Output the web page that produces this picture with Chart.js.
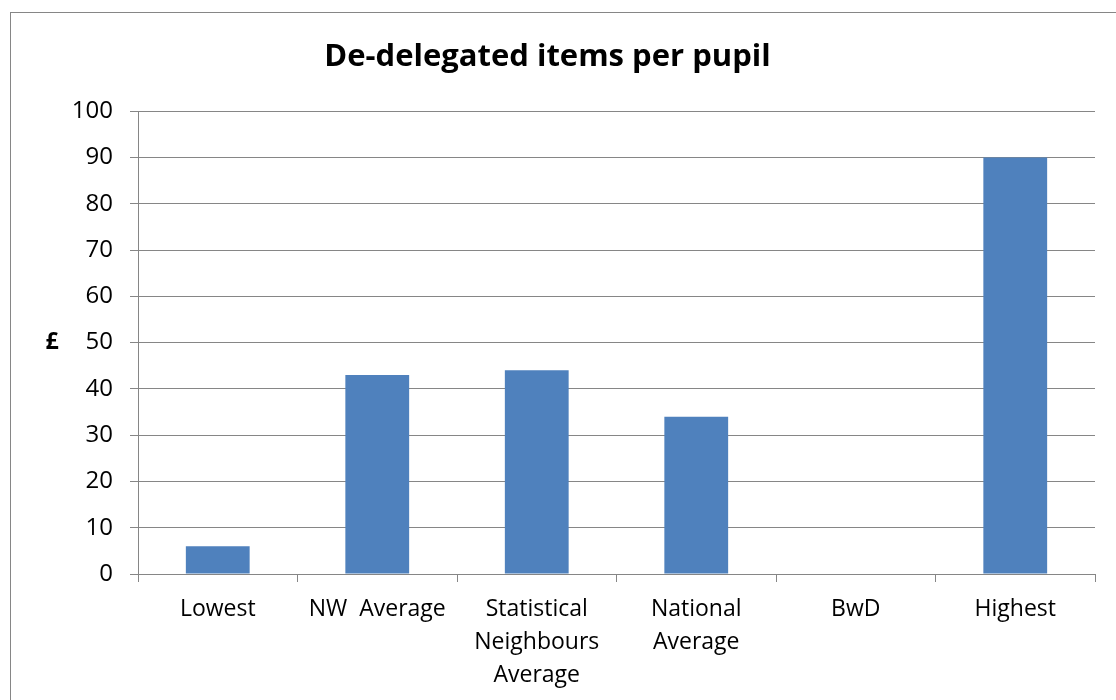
<!DOCTYPE html>
<html>
<head>
<meta charset="utf-8">
<title>De-delegated items per pupil</title>
<script src="https://cdn.jsdelivr.net/npm/chart.js@4"></script>
<style>
    html, body { margin: 0; padding: 0; background: #fff; overflow: hidden; }
    #wrap { position: relative; width: 1116px; height: 700px; }
    #frame {
        position: absolute; left: 10px; top: 12px;
        width: 1300px; height: 900px;
        border: 1px solid #868686;
    }
    #chart { position: absolute; left: 0; top: 0; }
</style>
</head>
<body>
<div id="wrap">
    <div id="frame"></div>
    <canvas id="chart" width="1116" height="700"></canvas>
</div>
<script>
// chart data
const categories = ['Lowest', 'NW  Average', ['Statistical', 'Neighbours', 'Average'], ['National', 'Average'], 'BwD', 'Highest'];
const perPupil = [6, 43, 44, 34, 0, 90];
const yTicks = [0, 10, 20, 30, 40, 50, 60, 70, 80, 90, 100];
const yAxisLabel = '£';

const FONT = "'Open Sans', 'DejaVu Sans', sans-serif";
const GRID = '#868686';

// draws the upright "£" next to the value axis
const poundLabel = {
    id: 'poundLabel',
    afterDraw(chart) {
        const ctx = chart.ctx;
        const y = chart.scales.y;
        ctx.save();
        ctx.font = 'bold 23px ' + FONT;
        ctx.fillStyle = '#000';
        ctx.textAlign = 'center';
        ctx.textBaseline = 'middle';
        ctx.fillText(yAxisLabel, 52, (y.top + y.bottom) / 2);
        ctx.restore();
    }
};

new Chart(document.getElementById('chart'), {
    type: 'bar',
    data: {
        labels: categories,
        datasets: [{
            label: 'De-delegated items per pupil',
            data: perPupil,
            backgroundColor: '#4f81bd',
            borderWidth: 0,
            barPercentage: 0.4,
            categoryPercentage: 1
        }]
    },
    options: {
        responsive: false,
        animation: false,
        layout: { padding: { left: 0, right: 21, top: 0, bottom: 0 } },
        plugins: {
            legend: { display: false },
            tooltip: { enabled: false },
            title: {
                display: true,
                text: 'De-delegated items per pupil',
                color: '#000',
                font: { family: FONT, size: 31, weight: 'bold' },
                padding: { top: 39, bottom: 35 }
            }
        },
        scales: {
            x: {
                grid: {
                    drawOnChartArea: false,
                    drawTicks: true,
                    tickLength: 8,
                    color: GRID
                },
                border: { color: GRID, width: 1 },
                ticks: {
                    color: '#000',
                    padding: 11,
                    maxRotation: 0,
                    autoSkip: false,
                    font: { family: FONT, size: 23, lineHeight: 1.43 }
                },
                afterFit(scale) { scale.height = 126; }
            },
            y: {
                min: 0,
                max: 100,
                afterBuildTicks(scale) {
                    scale.ticks = yTicks.map(v => ({ value: v }));
                },
                grid: { color: GRID, tickLength: 8 },
                border: { color: GRID, width: 1 },
                ticks: {
                    color: '#000',
                    padding: 17,
                    font: { family: FONT, size: 24 }
                },
                afterFit(scale) { scale.width = 138; }
            }
        }
    },
    plugins: [poundLabel]
});
</script>
</body>
</html>
